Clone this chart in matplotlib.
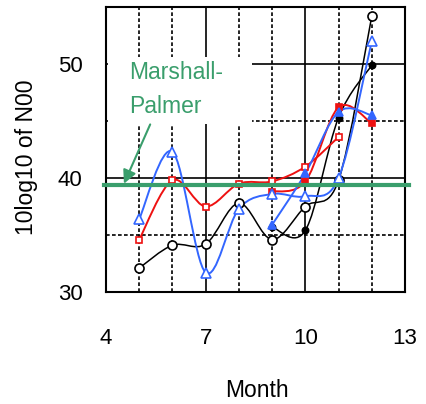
import matplotlib
matplotlib.use("Agg")
import matplotlib.pyplot as plt
from matplotlib.path import Path
from matplotlib.patches import PathPatch, Rectangle
from matplotlib.ticker import FixedLocator, MultipleLocator

plt.rcParams["font.family"] = ["Liberation Sans", "DejaVu Sans"]

# monthly 10log10(N0) values
months_full = [5, 6, 7, 8, 9, 10, 11, 12]
black_open = [32.1, 34.1, 34.2, 37.8, 34.6, 37.5, 39.8, 54.2]
blue_open = [36.4, 42.3, 31.7, 37.3, 38.6, 38.4, 40.0, 52.0]

months_red = [5, 6, 7, 8, 9, 10, 11]
red_open = [34.6, 39.8, 37.5, 39.5, 39.7, 41.0, 43.6]

months_late = [9, 10, 11, 12]
black_filled = [35.7, 35.4, 45.3, 49.9]
blue_filled = [35.9, 40.4, 45.8, 45.5]
red_filled = [38.8, 39.7, 46.2, 44.8]

x_ticks = [4, 7, 10, 13]
marshall_palmer = 39.36

GREEN = "#3a9e6c"
RED = "#ee1111"
BLUE = "#3366ff"


def smooth_path(xs, ys):
    """Catmull-Rom style cubic Bezier path through the points (spreadsheet smoothing)."""
    pts = list(zip(xs, ys))
    verts = [pts[0]]
    codes = [Path.MOVETO]
    n = len(pts)
    for i in range(n - 1):
        p0 = pts[i - 1] if i > 0 else pts[i]
        p1 = pts[i]
        p2 = pts[i + 1]
        p3 = pts[i + 2] if i + 2 < n else pts[i + 1]
        c1 = (p1[0] + (p2[0] - p0[0]) / 6, p1[1] + (p2[1] - p0[1]) / 6)
        c2 = (p2[0] - (p3[0] - p1[0]) / 6, p2[1] - (p3[1] - p1[1]) / 6)
        verts += [c1, c2, p2]
        codes += [Path.CURVE4] * 3
    return Path(verts, codes)


def draw_series(ax, xs, ys, color, marker, ms, filled, lw):
    ax.add_patch(PathPatch(smooth_path(xs, ys), fill=False, edgecolor=color,
                           lw=lw, zorder=3))
    ax.plot(xs, ys, linestyle="none", marker=marker, ms=ms,
            markerfacecolor=color if filled else "white",
            markeredgecolor=color, markeredgewidth=1.2, zorder=4)


fig = plt.figure(figsize=(4.26, 4.04), dpi=100)
ax = fig.add_axes([106 / 426, 1 - 292 / 404, 299 / 426, 285 / 404])

ax.set_xlim(4, 13)
ax.set_ylim(30, 55)
ax.xaxis.set_major_locator(FixedLocator(x_ticks))
ax.xaxis.set_minor_locator(MultipleLocator(1))
ax.yaxis.set_major_locator(MultipleLocator(10))
ax.yaxis.set_minor_locator(MultipleLocator(5))

ax.set_axisbelow(True)
ax.grid(which="major", color="black", lw=1.2, ls="-")
ax.grid(which="minor", color="black", lw=1.2, ls=(0, (2.2, 1.4)))
ax.tick_params(which="both", length=0)
ax.tick_params(axis="x", pad=26, labelsize=16)
ax.tick_params(axis="y", pad=17, labelsize=16)
for sp in ax.spines.values():
    sp.set_linewidth(1.5)

# white backing behind the annotation text
ax.add_patch(Rectangle((4.05, 44.7), 4.35, 5.9, facecolor="white",
                       edgecolor="none", zorder=1))

draw_series(ax, months_full, black_open, "black", "o", 6.5, False, 1.1)
draw_series(ax, months_late, black_filled, "black", "o", 4.5, True, 1.1)
draw_series(ax, months_red, red_open, RED, "s", 5, False, 1.4)
draw_series(ax, months_late, red_filled, RED, "s", 5, True, 1.4)
draw_series(ax, months_full, blue_open, BLUE, "^", 7, False, 1.4)
draw_series(ax, months_late, blue_filled, BLUE, "^", 6, True, 1.4)

ax.axhline(marshall_palmer, xmin=-0.007, xmax=1.012, color=GREEN, lw=3,
           zorder=5, clip_on=False)

ax.text(4.69, 48.72, "Marshall-", color=GREEN, fontsize=16.5, va="baseline",
        ha="left", zorder=6)
ax.text(4.69, 45.66, "Palmer", color=GREEN, fontsize=16.5, va="baseline",
        ha="left", zorder=6)
ax.annotate("", xy=(4.54, 39.5), xytext=(5.33, 44.7),
            arrowprops=dict(arrowstyle="-|>", color=GREEN, lw=1.5,
                            mutation_scale=20, shrinkA=0, shrinkB=0),
            zorder=6)

ax.set_xlabel("Month", fontsize=16.5)
ax.set_ylabel("10log10 of N00", fontsize=16.5)
ax.xaxis.set_label_coords(0.505, -0.305)
ax.yaxis.set_label_coords(-0.227, 0.472)

fig.savefig("out.png", dpi=100)
